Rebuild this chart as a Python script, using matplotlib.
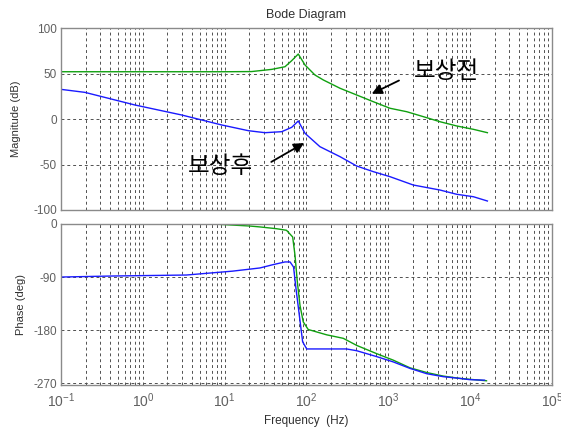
import matplotlib
matplotlib.use("Agg")
import matplotlib.pyplot as plt
import numpy as np
from matplotlib.ticker import LogLocator, NullFormatter, FixedLocator

plt.rcParams['font.family'] = ['Liberation Sans', 'DejaVu Sans']

# ---- data ----
f_mag_before = [0.1, 1, 10, 21.4, 37.6, 54.6, 66, 79.4, 96, 127, 161, 257, 411, 656,
                1047, 1679, 2690, 4270, 6850, 10970, 16250]
mag_before = [52.2, 52.2, 52.2, 52.4, 54.8, 57.7, 64.4, 71.7, 59.6, 48.6, 43.1, 34.0, 26.6, 19.2,
              12.0, 8.2, 2.7, -2.8, -7.5, -11.2, -14.9]

f_mag_after = [0.1, 0.196, 0.80, 2.98, 9.2, 19.5, 31.1, 49.8, 66, 79.4, 96, 146, 257, 411,
               656, 1047, 2018, 4270, 6850, 10970, 16250]
mag_after = [32.8, 29.5, 15.6, 4.6, -6.4, -12.7, -14.9, -13.8, -9.0, -2.0, -15.6, -30.3, -41.3, -51.6,
             -57.8, -63.3, -72.5, -78.0, -82.7, -85.4, -90.1]

f_ph_before = [0.1, 1, 8.3, 20, 27, 43, 57, 67.8, 72.4, 77.3, 83.3, 91.3, 105, 176, 282,
               411, 721, 1150, 1840, 2950, 4680, 7520, 15850]
ph_before = [0, 0, -0.5, -3.4, -5, -8, -10.7, -22, -53, -98, -138, -166, -179, -188, -194,
             -206, -220, -231, -244, -252, -258, -262, -266]

f_ph_after = [0.1, 0.41, 3.4, 12.5, 27, 39, 54.6, 63, 69.5, 74.5, 81.8, 89.8, 100.7, 146, 309,
              411, 721, 1150, 1840, 2950, 4680, 7520, 9760, 15000]
ph_after = [-90, -88.3, -86.6, -80, -74.6, -69, -64.4, -64.4, -73, -110, -155, -200, -212, -212, -212,
            -215, -225, -234, -245, -254, -259, -262, -264, -265]

mag_ticks = [-100, -50, 0, 50, 100]
phase_ticks = [-270, -180, -90, 0]
decades = [-1, 0, 1, 2, 3, 4, 5]

label_before = "보상전"
label_after = "보상후"

green = '#10a010'
blue = '#1a1aff'
gridc = '#505050'
spinec = '#8a8a8a'
textc = '#606060'

fig = plt.figure(figsize=(5.61, 4.29), dpi=100)
ax1 = fig.add_axes([0.1087, 0.5105, 0.8752, 0.4235])
ax2 = fig.add_axes([0.1087, 0.1014, 0.8752, 0.3765])

for ax in (ax1, ax2):
    ax.set_xscale('log')
    ax.set_xlim(1e-1, 1e5)
    ax.xaxis.set_major_locator(LogLocator(base=10, numticks=20))
    ax.xaxis.set_minor_locator(LogLocator(base=10, subs=np.arange(2, 10), numticks=100))
    ax.xaxis.set_minor_formatter(NullFormatter())
    ax.grid(True, which='both', axis='x', color=gridc, linestyle=(0, (3, 3)), linewidth=0.7)
    ax.grid(True, which='major', axis='y', color=gridc, linestyle=(0, (3, 3)), linewidth=0.7)
    for s in ax.spines.values():
        s.set_color(spinec)
        s.set_linewidth(1.0)
    ax.tick_params(which='both', length=0, colors=textc, labelsize=8.5, pad=3)

ax1.plot(f_mag_before, mag_before, color=green, lw=1.0)
ax1.plot(f_mag_after, mag_after, color=blue, lw=1.0)
ax1.set_ylim(-100, 100)
ax1.yaxis.set_major_locator(FixedLocator(mag_ticks))
ax1.set_yticklabels([str(t) for t in mag_ticks])
ax1.tick_params(axis='x', labelbottom=False)
ax1.set_ylabel('Magnitude (dB)', fontsize=8, color='#303030', labelpad=9)

ax2.plot(f_ph_before, ph_before, color=green, lw=1.0)
ax2.plot(f_ph_after, ph_after, color=blue, lw=1.0)
ax2.set_ylim(-274, 0)
ax2.yaxis.set_major_locator(FixedLocator(phase_ticks))
ax2.set_yticklabels([str(t) for t in phase_ticks])
ax2.set_xticks([10.0 ** d for d in decades])
ax2.set_xticklabels([r'$\mathregular{10^{%d}}$' % d for d in decades])
ax2.tick_params(axis='x', labelsize=10, pad=4)
ax2.set_ylabel('Phase (deg)', fontsize=8, color='#303030', labelpad=5)

fig.text(0.5455, 1 - 421 / 429, 'Frequency  (Hz)', ha='center', va='center', fontsize=8.5, color='#303030')
fig.text(0.5455, 1 - 15 / 429, 'Bode Diagram', ha='center', va='center', fontsize=9, color='#303030')

kfont = ['Noto Sans CJK KR', 'DejaVu Sans']
ax1.annotate('', xy=(585, 26.6), xytext=(1450, 43.9),
             arrowprops=dict(arrowstyle='-|>', color='black', lw=1.3, mutation_scale=15))
ax1.text(2060, 52, label_before, family=kfont, fontsize=17, ha='left', va='center', color='black')
ax1.annotate('', xy=(100, -24.8), xytext=(34.7, -48.6),
             arrowprops=dict(arrowstyle='-|>', color='black', lw=1.3, mutation_scale=15))
ax1.text(3.6, -52, label_after, family=kfont, fontsize=17, ha='left', va='center', color='black')

fig.savefig('out.png', dpi=100)
